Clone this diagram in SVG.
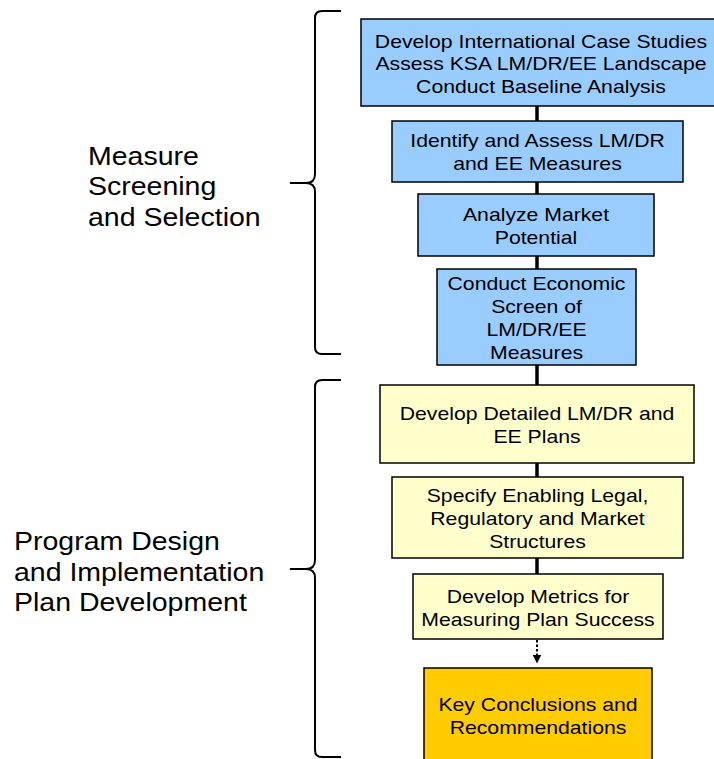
<svg xmlns="http://www.w3.org/2000/svg" width="714" height="759" viewBox="0 0 714 759">
<style>
.box{stroke:#000;stroke-width:1.5}
.blue{fill:#99CCFF}
.yel{fill:#FFFFCC}
.gold{fill:#FFCC00}
text{font-family:"Liberation Sans",Arial,sans-serif;fill:#000}
.bt{font-size:18.6px;text-anchor:middle}
.lt{font-size:25px}
.brace{fill:none;stroke:#000;stroke-width:2}
.conn{stroke:#000;stroke-width:3.5;fill:none}
</style>
<defs>
<marker id="ah" markerWidth="9" markerHeight="9" refX="4.5" refY="4.5" orient="auto" markerUnits="userSpaceOnUse">
<path d="M0,0 L9,4.5 L0,9 Z" fill="#000"/>
</marker>
</defs>
<g id="connectors">
<line class="conn" x1="537" y1="106" x2="537" y2="121"/>
<line class="conn" x1="537" y1="182" x2="537" y2="194"/>
<line class="conn" x1="537" y1="256" x2="537" y2="269"/>
<line class="conn" x1="537" y1="365" x2="537" y2="385"/>
<line class="conn" x1="537" y1="463" x2="537" y2="477"/>
<line class="conn" x1="537" y1="558" x2="537" y2="574"/>
<line x1="537" y1="640" x2="537" y2="659" stroke="#000" stroke-width="2" stroke-dasharray="2.5,2" marker-end="url(#ah)"/>
</g>
<g id="brace1"><path class="brace" d="M341,11 L322,11 Q315,11 315,18 L315,174 Q315,183 306,183 L290,183 M306,183 Q315,183 315,192 L315,347 Q315,354 322,354 L341,354"/></g>
<g id="brace2"><path class="brace" d="M341,380 L322,380 Q315,380 315,387 L315,560 Q315,569 306,569 L290,569 M306,569 Q315,569 315,578 L315,750 Q315,757 322,757 L341,757"/></g>
<g id="label1"><g transform="translate(88,0) scale(1.14,1)"><text class="lt"><tspan x="0" y="165">Measure</tspan><tspan x="0" y="195">Screening</tspan><tspan x="0" y="226">and Selection</tspan></text></g></g>
<g id="label2"><g transform="translate(14,0) scale(1.14,1)"><text class="lt"><tspan x="0" y="550">Program Design</tspan><tspan x="0" y="581">and Implementation</tspan><tspan x="0" y="611">Plan Development</tspan></text></g></g>
<g id="n1"><rect class="box blue" x="361" y="19" width="356" height="87"/>
<g transform="translate(541,0) scale(1.14,1)"><text class="bt"><tspan x="0" y="48">Develop International Case Studies</tspan><tspan x="0" y="70.5">Assess KSA LM/DR/EE Landscape</tspan><tspan x="0" y="93">Conduct Baseline Analysis</tspan></text></g></g>
<g id="n2"><rect class="box blue" x="392" y="121" width="291" height="61"/>
<g transform="translate(537.5,0) scale(1.14,1)"><text class="bt"><tspan x="0" y="147">Identify and Assess LM/DR</tspan><tspan x="0" y="170">and EE Measures</tspan></text></g></g>
<g id="n3"><rect class="box blue" x="418" y="194" width="236" height="62"/>
<g transform="translate(536,0) scale(1.14,1)"><text class="bt"><tspan x="0" y="221">Analyze Market</tspan><tspan x="0" y="244">Potential</tspan></text></g></g>
<g id="n4"><rect class="box blue" x="437" y="269" width="199" height="96"/>
<g transform="translate(536.5,0) scale(1.14,1)"><text class="bt"><tspan x="0" y="290">Conduct Economic</tspan><tspan x="0" y="313">Screen of</tspan><tspan x="0" y="336">LM/DR/EE</tspan><tspan x="0" y="359">Measures</tspan></text></g></g>
<g id="n5"><rect class="box yel" x="380" y="385" width="314" height="78"/>
<g transform="translate(537,0) scale(1.14,1)"><text class="bt"><tspan x="0" y="420">Develop Detailed LM/DR and</tspan><tspan x="0" y="443">EE Plans</tspan></text></g></g>
<g id="n6"><rect class="box yel" x="392" y="477" width="291" height="81"/>
<g transform="translate(537.5,0) scale(1.14,1)"><text class="bt"><tspan x="0" y="502">Specify Enabling Legal,</tspan><tspan x="0" y="525">Regulatory and Market</tspan><tspan x="0" y="548">Structures</tspan></text></g></g>
<g id="n7"><rect class="box yel" x="413" y="574" width="250" height="65"/>
<g transform="translate(538,0) scale(1.14,1)"><text class="bt"><tspan x="0" y="603">Develop Metrics for</tspan><tspan x="0" y="626">Measuring Plan Success</tspan></text></g></g>
<g id="n8"><rect class="box gold" x="424" y="668" width="228" height="100"/>
<g transform="translate(538,0) scale(1.14,1)"><text class="bt"><tspan x="0" y="711">Key Conclusions and</tspan><tspan x="0" y="734">Recommendations</tspan></text></g></g>
</svg>
